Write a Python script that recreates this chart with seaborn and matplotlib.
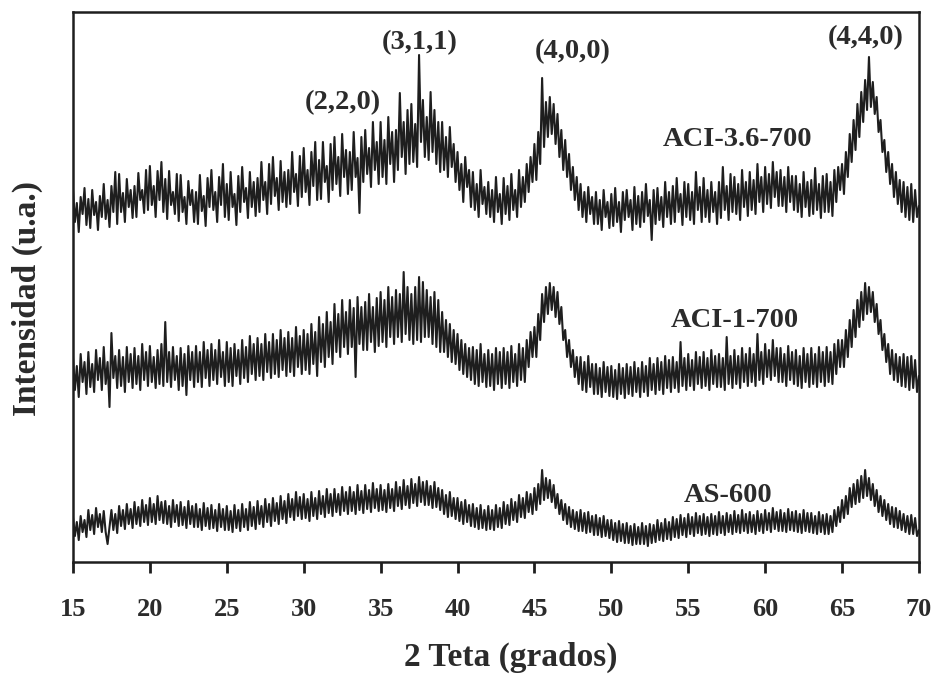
import numpy as np
import pandas as pd
import matplotlib
matplotlib.use("Agg")
import matplotlib.pyplot as plt
import seaborn as sns

# 2-theta grid (degrees), 0.125 deg step from 15 to 70
two_theta = np.arange(15.0, 70.001, 0.125)

# Intensity (arbitrary units), eight readings per degree, one row per degree
aci_36_700 = [
    372, 340, 359, 330, 365, 348, 374, 337,   # 15
    363, 334, 372, 347, 360, 332, 366, 345,
    378, 343, 362, 335, 376, 350, 390, 338,
    388, 350, 369, 340, 383, 355, 372, 344,
    376, 345, 389, 362, 372, 349, 392, 352,
    396, 357, 376, 345, 391, 362, 400, 350,   # 20
    383, 343, 391, 357, 370, 348, 388, 341,
    387, 350, 365, 338, 381, 357, 372, 340,
    370, 338, 387, 351, 366, 336, 384, 355,
    392, 352, 370, 340, 385, 357, 398, 345,
    378, 342, 390, 355, 368, 337, 386, 350,   # 25
    395, 360, 374, 344, 390, 355, 380, 346,
    384, 350, 400, 362, 380, 348, 398, 358,
    405, 366, 384, 352, 401, 360, 390, 355,
    392, 358, 410, 370, 388, 356, 406, 365,
    414, 370, 392, 357, 410, 376, 420, 362,   # 30
    402, 363, 420, 380, 396, 360, 418, 372,
    425, 378, 405, 366, 428, 385, 412, 368,
    410, 372, 430, 385, 404, 349, 425, 380,
    432, 388, 414, 375, 440, 392, 420, 378,
    440, 385, 422, 378, 445, 398, 430, 380,   # 35
    432, 392, 469, 405, 440, 388, 452, 398,
    458, 400, 438, 395, 507, 420, 462, 405,
    445, 402, 470, 410, 452, 398, 440, 390,
    440, 392, 425, 385, 435, 395, 418, 380,
    410, 372, 398, 360, 405, 375, 392, 355,   # 40
    390, 352, 378, 345, 392, 358, 375, 348,
    380, 345, 372, 340, 385, 350, 368, 338,
    384, 348, 376, 342, 388, 352, 372, 345,
    392, 355, 385, 360, 398, 370, 405, 380,
    418, 382, 430, 398, 484, 415, 460, 425,   # 45
    465, 428, 458, 418, 448, 405, 432, 392,
    422, 385, 408, 372, 395, 362, 385, 352,
    378, 345, 370, 340, 375, 348, 365, 338,
    370, 338, 362, 332, 372, 345, 360, 334,
    368, 336, 374, 340, 360, 330, 370, 342,   # 50
    372, 345, 362, 332, 375, 338, 366, 335,
    370, 340, 378, 346, 362, 322, 372, 338,
    374, 342, 365, 335, 380, 345, 370, 338,
    376, 340, 384, 350, 368, 337, 380, 345,
    378, 342, 370, 338, 390, 352, 375, 340,   # 55
    384, 345, 372, 340, 380, 350, 370, 338,
    380, 344, 395, 352, 376, 342, 388, 350,
    385, 348, 378, 342, 392, 355, 380, 346,
    390, 352, 382, 348, 398, 360, 385, 350,
    395, 358, 388, 354, 400, 365, 390, 356,   # 60
    392, 356, 385, 350, 395, 360, 386, 352,
    386, 350, 378, 345, 390, 355, 380, 346,
    382, 348, 394, 352, 378, 344, 386, 350,
    388, 350, 380, 346, 392, 360, 395, 372,
    398, 368, 410, 385, 428, 400, 442, 412,   # 65
    458, 425, 470, 440, 482, 452, 505, 455,
    480, 448, 465, 430, 442, 410, 422, 390,
    410, 378, 398, 365, 390, 358, 382, 350,
    380, 345, 375, 342, 378, 340, 372, 345,
    356,                                      # 70
]
aci_1_700 = [
    205, 172, 196, 165, 208, 180, 200, 168,   # 15
    210, 175, 198, 170, 212, 182, 204, 172,
    215, 178, 200, 155, 229, 184, 206, 174,
    212, 176, 205, 170, 215, 180, 208, 174,
    214, 178, 206, 172, 218, 182, 210, 176,
    216, 180, 205, 174, 212, 178, 218, 176,   # 20
    240, 180, 210, 175, 215, 182, 206, 172,
    214, 176, 208, 167, 216, 182, 210, 175,
    216, 180, 210, 175, 220, 184, 212, 176,
    218, 182, 212, 178, 222, 185, 210, 176,
    220, 180, 214, 176, 218, 186, 212, 178,   # 25
    222, 184, 215, 180, 226, 188, 218, 182,
    224, 186, 218, 182, 228, 190, 220, 184,
    228, 188, 222, 185, 232, 192, 224, 186,
    230, 190, 224, 186, 235, 195, 226, 188,
    232, 192, 228, 188, 238, 198, 230, 186,   # 30
    245, 200, 238, 195, 250, 205, 240, 198,
    258, 210, 248, 205, 262, 215, 250, 208,
    262, 215, 254, 185, 265, 218, 255, 212,
    260, 212, 268, 220, 255, 210, 264, 216,
    270, 220, 262, 215, 275, 225, 265, 218,   # 35
    272, 225, 268, 220, 290, 228, 275, 222,
    268, 218, 275, 222, 285, 220, 280, 225,
    272, 225, 265, 218, 270, 215, 262, 210,
    250, 210, 242, 205, 238, 200, 232, 198,
    228, 192, 222, 188, 218, 185, 214, 182,   # 40
    215, 178, 212, 176, 218, 180, 208, 175,
    212, 176, 208, 172, 214, 178, 210, 174,
    214, 178, 210, 174, 216, 180, 208, 176,
    218, 182, 214, 180, 222, 195, 230, 205,
    235, 205, 248, 222, 268, 240, 275, 248,   # 45
    279, 252, 275, 245, 270, 238, 255, 222,
    232, 205, 222, 195, 212, 185, 205, 178,
    205, 172, 200, 170, 206, 175, 198, 168,
    198, 168, 194, 165, 200, 170, 195, 166,
    196, 165, 192, 163, 198, 168, 194, 164,   # 50
    198, 168, 195, 166, 200, 170, 194, 165,
    200, 170, 196, 166, 204, 172, 198, 168,
    204, 172, 200, 168, 206, 174, 202, 170,
    205, 174, 200, 170, 220, 176, 204, 172,
    208, 176, 202, 172, 210, 178, 205, 174,   # 55
    210, 176, 204, 172, 212, 178, 206, 175,
    208, 175, 204, 172, 225, 178, 206, 174,
    212, 178, 206, 174, 214, 180, 208, 176,
    214, 180, 208, 176, 228, 182, 210, 178,
    218, 185, 212, 182, 222, 186, 214, 180,   # 60
    214, 180, 208, 176, 216, 182, 210, 178,
    212, 176, 206, 174, 214, 180, 208, 175,
    214, 178, 208, 175, 215, 180, 210, 176,
    215, 180, 210, 178, 218, 188, 222, 195,
    222, 195, 232, 205, 242, 215, 252, 225,   # 65
    262, 235, 270, 242, 279, 248, 275, 250,
    270, 240, 258, 228, 242, 212, 228, 200,
    218, 188, 212, 182, 208, 180, 205, 176,
    208, 175, 205, 172, 206, 174, 202, 170,
    186,                                      # 70
]
as_600 = [
    45, 26, 40, 22, 46, 30, 42, 25,   # 15
    52, 32, 47, 28, 54, 35, 48, 30,
    51, 30, 18, 35, 52, 32, 48, 29,
    56, 36, 52, 33, 58, 38, 53, 34,
    60, 38, 55, 36, 62, 40, 57, 37,
    64, 40, 58, 38, 66, 42, 60, 39,   # 20
    61, 38, 56, 35, 62, 40, 57, 36,
    60, 37, 55, 34, 61, 38, 56, 35,
    58, 35, 53, 32, 59, 36, 54, 33,
    57, 34, 52, 31, 58, 35, 53, 32,
    56, 32, 51, 30, 57, 34, 52, 31,   # 25
    58, 35, 53, 32, 60, 36, 55, 33,
    61, 38, 56, 35, 63, 40, 58, 36,
    64, 41, 59, 38, 66, 43, 61, 39,
    68, 45, 63, 42, 70, 46, 65, 43,
    68, 44, 63, 41, 70, 46, 64, 43,   # 30
    71, 48, 66, 45, 73, 49, 68, 46,
    73, 50, 68, 47, 75, 51, 70, 48,
    75, 51, 70, 48, 77, 52, 71, 49,
    77, 53, 72, 50, 79, 54, 73, 51,
    77, 52, 72, 50, 78, 54, 73, 51,   # 35
    80, 56, 75, 53, 82, 57, 76, 54,
    83, 59, 78, 56, 85, 60, 80, 57,
    81, 57, 76, 54, 80, 55, 74, 52,
    72, 48, 67, 45, 70, 46, 64, 43,
    64, 41, 60, 38, 62, 40, 57, 36,   # 40
    58, 35, 54, 33, 57, 34, 52, 32,
    56, 33, 52, 32, 57, 35, 54, 34,
    60, 38, 57, 37, 63, 42, 60, 40,
    67, 45, 64, 44, 70, 50, 68, 48,
    74, 52, 78, 58, 92, 62, 84, 64,   # 45
    82, 60, 77, 54, 68, 48, 62, 42,
    58, 38, 55, 35, 52, 33, 50, 31,
    52, 31, 49, 29, 50, 30, 46, 27,
    47, 27, 44, 25, 46, 26, 42, 24,
    42, 22, 39, 20, 41, 21, 38, 19,   # 50
    39, 19, 36, 17, 38, 18, 35, 18,
    39, 18, 36, 16, 38, 19, 37, 20,
    42, 22, 39, 21, 43, 23, 40, 22,
    45, 25, 43, 24, 47, 27, 44, 25,
    48, 28, 45, 26, 49, 29, 46, 27,   # 55
    48, 28, 45, 26, 48, 28, 46, 27,
    50, 29, 46, 27, 49, 30, 47, 28,
    51, 30, 47, 29, 52, 31, 48, 29,
    50, 30, 47, 28, 51, 31, 48, 29,
    52, 32, 49, 30, 54, 33, 50, 31,   # 60
    52, 31, 49, 30, 53, 32, 50, 31,
    51, 30, 48, 29, 52, 31, 49, 30,
    49, 29, 46, 28, 50, 30, 47, 28,
    48, 28, 46, 30, 52, 36, 55, 40,
    62, 44, 66, 48, 74, 55, 78, 58,   # 65
    82, 60, 86, 64, 92, 66, 84, 62,
    78, 56, 72, 50, 66, 46, 62, 42,
    58, 38, 55, 35, 54, 34, 51, 32,
    48, 30, 46, 28, 47, 28, 44, 26,
    32,                               # 70
]

samples = ["ACI-3.6-700", "ACI-1-700", "AS-600"]
sample_labels = {  # (x, y) of each sample name
    "ACI-3.6-700": (58.2, 422),
    "ACI-1-700": (58.0, 242),
    "AS-600": (57.6, 67),
}
reflections = ["(2,2,0)", "(3,1,1)", "(4,0,0)", "(4,4,0)"]
reflection_pos = [(32.55, 459), (37.56, 519), (47.5, 510), (66.56, 524)]
x_ticks = [15, 20, 25, 30, 35, 40, 45, 50, 55, 60, 65, 70]

df = pd.concat([
    pd.DataFrame({"two_theta": two_theta, "intensity": vals, "sample": name})
    for name, vals in zip(samples, [aci_36_700, aci_1_700, as_600])
])

sns.set_theme(style="white")
plt.rcParams["font.family"] = ["Liberation Serif", "DejaVu Serif"]
plt.rcParams["font.weight"] = "bold"

ink = "#1e1e1e"
text_ink = "#2b2b2b"
fig = plt.figure(figsize=(9.32, 6.81), dpi=100)
ax = fig.add_axes([0.0783, 0.1747, 0.9077, 0.8077])

sns.lineplot(data=df, x="two_theta", y="intensity", hue="sample",
             palette=[ink, ink, ink], estimator=None, sort=False,
             linewidth=1.5, legend=False, ax=ax)

ax.set_xlim(15, 70)
ax.set_ylim(0, 550)
ax.set_xticks(x_ticks)
ax.set_xticklabels([str(t) for t in x_ticks], fontsize=19, fontweight="bold", color=text_ink)
ax.set_yticks([])
ax.tick_params(axis="x", direction="out", length=8, width=2, pad=18, color=ink, bottom=True)

for side in ["left", "right", "top", "bottom"]:
    ax.spines[side].set_visible(True)
    ax.spines[side].set_color(ink)
    ax.spines[side].set_linewidth(1.8)

ax.set_xlabel("2 Teta (grados)", fontsize=24, fontweight="bold", color=text_ink)
ax.set_ylabel("Intensidad (u.a.)", fontsize=24, fontweight="bold", color=text_ink)
ax.xaxis.set_label_coords(0.518, -0.145)
ax.yaxis.set_label_coords(-0.036, 0.48)

for name, (x, y) in sample_labels.items():
    ax.text(x, y, name, fontsize=20.5, fontweight="bold", color=text_ink,
            ha="center", va="center")
for lab, (x, y) in zip(reflections, reflection_pos):
    ax.text(x, y, lab, fontsize=20.5, fontweight="bold", color=text_ink,
            ha="center", va="center")

fig.savefig("out.png", dpi=100, facecolor="white")
